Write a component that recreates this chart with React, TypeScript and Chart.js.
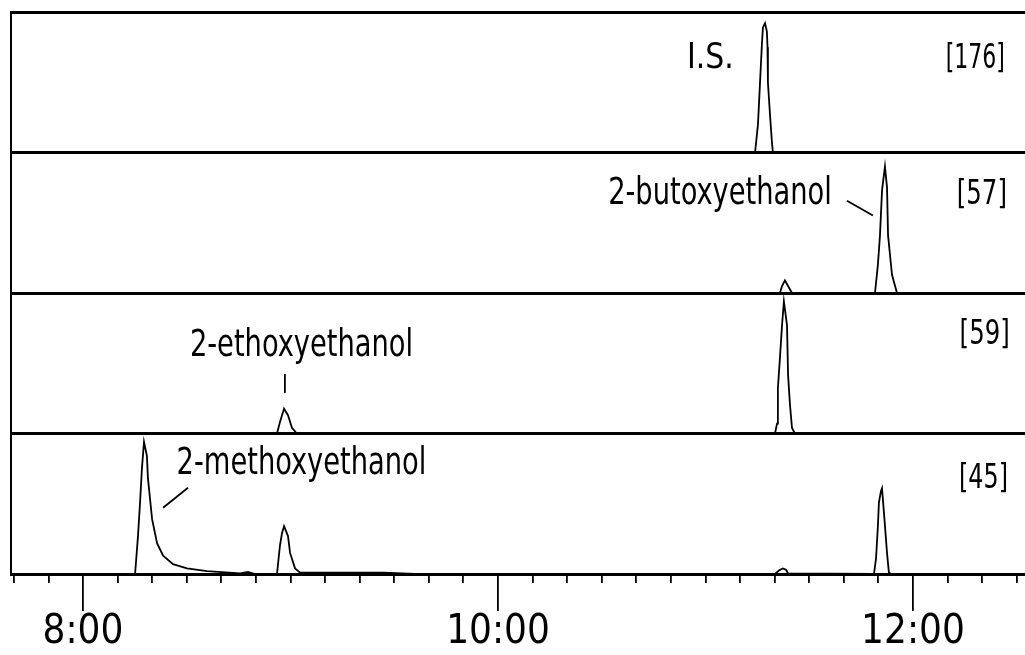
import React, { useEffect, useRef } from 'react';
import { Chart, registerables } from 'chart.js';

Chart.register(...registerables);

const FONT = "'Liberation Sans Narrow', 'DejaVu Sans Condensed', 'Liberation Sans', sans-serif";

// ---- time axis (minutes) ----
const timeMin = 7.653;
const timeMax = 12.54;
const majorTickValues = [8, 10, 12];
const majorTickLabels = ['8:00', '10:00', '12:00'];
const minorTickFirstSec = 7 * 60 + 40;
const minorTickLastSec = 12 * 60 + 30;
const minorTickStepSec = 10;

// panel 1 : [176]  I.S.
const trace176Time = [7.65, 11.239, 11.253, 11.263, 11.272, 11.277, 11.287, 11.296, 11.299, 11.301, 11.311, 11.320, 11.325, 12.55];
const trace176Signal = [0, 0, 20, 50, 77, 89, 92, 86, 75, 50, 27, 8, 0, 0];

// panel 2 : [57]  2-butoxyethanol
const trace57Time = [7.65, 11.359, 11.369, 11.383, 11.398, 11.417, 11.817, 11.831, 11.841, 11.851, 11.865, 11.875, 11.880, 11.899, 11.923, 12.55];
const trace57Signal = [0, 0, 5, 9, 5, 0, 0, 20, 41, 73, 90, 75, 41, 13, 0, 0];

// panel 3 : [59]  2-ethoxyethanol
const trace59Time = [7.65, 8.935, 8.949, 8.969, 8.988, 9.007, 9.031, 11.335, 11.345, 11.349, 11.359, 11.369, 11.378, 11.393, 11.398, 11.407, 11.417, 11.431, 12.55];
const trace59Signal = [0, 0, 8, 17.6, 13, 4, 0, 0, 7, 32, 54, 77, 94, 77, 42, 21, 4, 0, 0];

// panel 4 : [45]  2-methoxyethanol
const trace45Time = [7.65, 8.251, 8.265, 8.275, 8.284, 8.294, 8.308, 8.313, 8.333, 8.357, 8.386, 8.434, 8.501, 8.598, 8.757, 8.795, 8.829, 8.935, 8.949, 8.959, 8.969, 8.988, 8.998, 9.022, 9.046, 9.446, 9.6, 11.335, 11.354, 11.373, 11.388, 11.398, 11.812, 11.822, 11.831, 11.836, 11.846, 11.851, 11.860, 11.875, 11.884, 11.894, 12.55];
const trace45Signal = [0, 0, 27, 51, 75, 94, 84, 68, 39, 22, 13, 7, 4, 2, 0.5, 1.5, 0, 0, 20, 29, 34, 27, 15, 4, 1, 1, 0, 0, 2.5, 4, 3, 0.5, 0, 11, 34, 51, 59, 61, 44, 15, 1, 0, 0];

// ---- annotations ----
const labelTexts = ['I.S.', '[176]', '2-butoxyethanol', '[57]', '2-ethoxyethanol', '[59]', '2-methoxyethanol', '[45]'];
const labelTimes = [10.911, 12.443, 11.07, 12.453, 9.053, 12.467, 9.053, 12.458];
const labelLevels = [60, 60, 63.6, 63.6, 54.9, 63.4, 71.4, 61.4];
const labelAxes = ['yIS', 'yIS', 'y57', 'y57', 'y59', 'y59', 'y45', 'y45'];
const labelAligns: CanvasTextAlign[] = ['left', 'right', 'center', 'right', 'center', 'right', 'center', 'right'];
const labelSizes = [35, 34, 37, 34, 37, 34, 37, 34];
const labelStretch = [0.95, 0.72, 0.82, 0.8, 0.82, 0.8, 0.82, 0.78];

const leaderAxes = ['y57', 'y59', 'y45'];
const leaderStartTimes = [11.682, 8.973, 8.506];
const leaderStartLevels = [65.7, 42.3, 61.4];
const leaderEndTimes = [11.807, 8.973, 8.386];
const leaderEndLevels = [55.2, 28.9, 47.1];

const toPoints = (t: number[], v: number[]) => t.map((x, i) => ({ x, y: v[i] }));

const annotationPlugin = {
  id: 'chromAnnotations',
  afterDraw(chart: any) {
    const ctx = chart.ctx;
    const xs = chart.scales.x;
    ctx.save();
    ctx.fillStyle = '#000';
    ctx.textBaseline = 'alphabetic';
    labelTexts.forEach((txt, i) => {
      const ys = chart.scales[labelAxes[i]];
      ctx.save();
      ctx.font = `${labelSizes[i]}px ${FONT}`;
      ctx.textAlign = labelAligns[i];
      ctx.translate(xs.getPixelForValue(labelTimes[i]), ys.getPixelForValue(labelLevels[i]));
      ctx.scale(labelStretch[i], 1);
      ctx.fillText(txt, 0, 0);
      ctx.restore();
    });
    ctx.strokeStyle = '#000';
    ctx.lineWidth = 1.8;
    leaderAxes.forEach((axis, i) => {
      const ys = chart.scales[axis];
      ctx.beginPath();
      ctx.moveTo(xs.getPixelForValue(leaderStartTimes[i]), ys.getPixelForValue(leaderStartLevels[i]));
      ctx.lineTo(xs.getPixelForValue(leaderEndTimes[i]), ys.getPixelForValue(leaderEndLevels[i]));
      ctx.stroke();
    });
    ctx.restore();
  },
};

function panelAxis() {
  return {
    type: 'linear' as const,
    position: 'left' as const,
    stack: 'panels',
    stackWeight: 1,
    min: 0,
    max: 100,
    ticks: { display: false, stepSize: 100 },
    grid: {
      display: true,
      drawOnChartArea: true,
      drawTicks: false,
      lineWidth: 3,
      color: (c: any) => (c.tick && c.tick.value === 100 ? '#000' : 'rgba(0,0,0,0)'),
    },
    border: { display: true, color: '#000', width: 2 },
  };
}

export default function App() {
  const ref = useRef<HTMLCanvasElement | null>(null);

  useEffect(() => {
    if (!ref.current) return;
    const lineStyle = {
      borderColor: '#000',
      borderWidth: 1.8,
      pointRadius: 0,
      tension: 0,
      fill: false,
    };
    const chart = new Chart(ref.current, {
      type: 'line',
      data: {
        datasets: [
          { ...lineStyle, label: '[176]', data: toPoints(trace176Time, trace176Signal), yAxisID: 'yIS' },
          { ...lineStyle, label: '[57]', data: toPoints(trace57Time, trace57Signal), yAxisID: 'y57' },
          { ...lineStyle, label: '[59]', data: toPoints(trace59Time, trace59Signal), yAxisID: 'y59' },
          { ...lineStyle, label: '[45]', data: toPoints(trace45Time, trace45Signal), yAxisID: 'y45' },
        ],
      },
      options: {
        animation: false,
        responsive: false,
        parsing: false,
        normalized: true,
        layout: { padding: { left: 11, top: 12, right: 0, bottom: 0 } },
        plugins: { legend: { display: false }, tooltip: { enabled: false } },
        scales: {
          x: {
            type: 'linear',
            position: 'bottom',
            min: timeMin,
            max: timeMax,
            weight: 0,
            afterBuildTicks: (scale: any) => {
              const ticks = [];
              for (let s = minorTickFirstSec; s <= minorTickLastSec; s += minorTickStepSec) {
                ticks.push({ value: s / 60 });
              }
              scale.ticks = ticks;
            },
            ticks: { display: false },
            grid: { display: true, drawOnChartArea: false, drawTicks: true, tickLength: 9, color: '#000', lineWidth: 1.8 },
            border: { display: true, color: '#000', width: 3 },
          },
          x2: {
            type: 'linear',
            position: 'bottom',
            min: timeMin,
            max: timeMax,
            weight: 1,
            afterBuildTicks: (scale: any) => {
              scale.ticks = majorTickValues.map((v) => ({ value: v }));
            },
            ticks: {
              display: true,
              autoSkip: false,
              maxRotation: 0,
              padding: 4,
              color: '#000',
              font: { family: FONT, size: 40, lineHeight: 0.9 },
              callback: (_v: any, i: number) => majorTickLabels[i],
            },
            grid: { display: true, drawOnChartArea: false, drawTicks: true, tickLength: 28, color: '#000', lineWidth: 1.8 },
            border: { display: false },
          },
          y45: panelAxis(),
          y59: panelAxis(),
          y57: panelAxis(),
          yIS: panelAxis(),
        },
      } as any,
      plugins: [annotationPlugin],
    });
    return () => chart.destroy();
  }, []);

  return (
    <div style={{ position: 'fixed', left: 0, top: 0, width: 1025, height: 655, overflow: 'hidden', background: '#fff' }}>
      <canvas ref={ref} width={1025} height={655} style={{ display: 'block' }} />
    </div>
  );
}
